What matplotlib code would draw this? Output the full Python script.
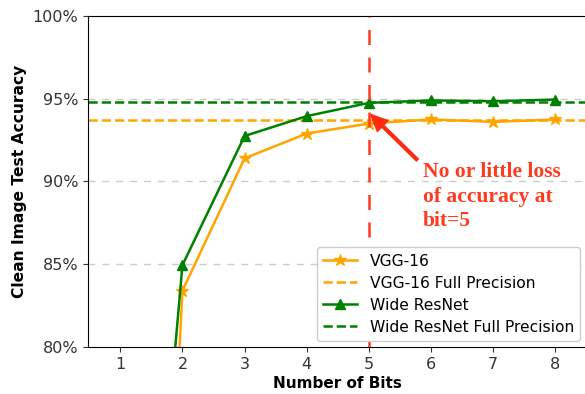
import matplotlib
matplotlib.use("Agg")
import matplotlib.pyplot as plt
from matplotlib.ticker import FuncFormatter

bits = [1, 2, 3, 4, 5, 6, 7, 8]
vgg16 = [10.0, 83.4, 91.4, 92.9, 93.5, 93.75, 93.6, 93.75]
wide_resnet = [42.0, 84.95, 92.75, 93.95, 94.75, 94.9, 94.85, 94.95]
vgg16_full = 93.73
wide_resnet_full = 94.83
annot_text = "No or little loss\nof accuracy at\nbit=5"

fig = plt.figure(figsize=(5.85, 3.94), dpi=100)
ax = fig.add_axes([0.1504, 0.1193, 0.852, 0.8401])

for y in [85, 90, 95]:
    ax.axhline(y, color='#cccccc', linestyle=(0, (5, 5)), linewidth=1.0, zorder=0)

ax.plot(bits, vgg16, color='orange', marker='*', markersize=9, linewidth=1.8, label='VGG-16')
ax.axhline(vgg16_full, color='orange', linestyle='--', linewidth=1.8, label='VGG-16 Full Precision')
ax.plot(bits, wide_resnet, color='green', marker='^', markersize=7, linewidth=1.8, label='Wide ResNet')
ax.axhline(wide_resnet_full, color='green', linestyle='--', linewidth=1.8, label='Wide ResNet Full Precision')

ax.axvline(5, color='#ff3b1f', linestyle=(0, (6, 5)), linewidth=1.8)

ax.annotate('', xy=(5.03, 94.05), xytext=(5.78, 91.3),
            arrowprops=dict(color='#ff2a10', width=2.0, headwidth=11, headlength=12))
ax.text(5.87, 91.15, annot_text, color='#ff3b1f', fontsize=15.5, fontweight='bold',
        family='Liberation Serif', va='top', ha='left', linespacing=1.3)

ax.set_xlim(0.48, 8.5)
ax.set_ylim(80, 100)
ax.set_xticks(bits)
ax.set_yticks([80, 85, 90, 95, 100])
ax.yaxis.set_major_formatter(FuncFormatter(lambda v, p: f"{v:.0f}%"))
ax.tick_params(labelsize=11.5, colors='#333333')
ax.set_xlabel('Number of Bits', fontsize=11, fontweight='bold', labelpad=3)
ax.set_ylabel('Clean Image Test Accuracy', fontsize=11.2, fontweight='bold')

ax.legend(loc='lower right', fontsize=11.2, framealpha=1.0, edgecolor='#cccccc',
          handlelength=2.2, borderaxespad=0.4, labelspacing=0.45)

fig.savefig('out.png', dpi=100)
